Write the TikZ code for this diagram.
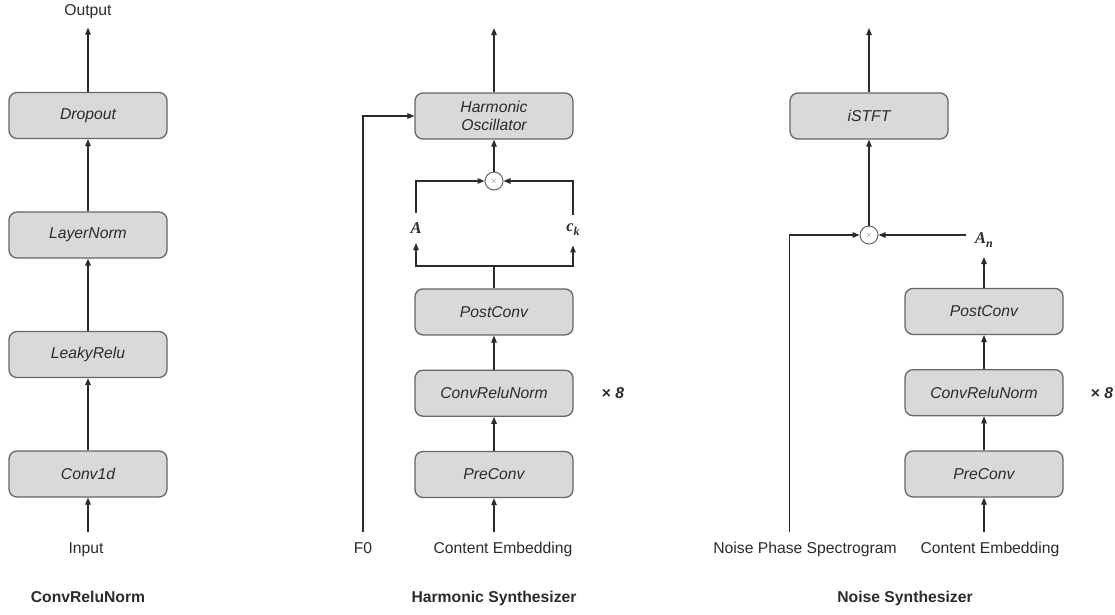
\documentclass[tikz,border=0pt]{standalone}
\usepackage{fontspec}
\setmainfont{Liberation Sans}
\newfontfamily\labelserif{Liberation Serif}
\usepackage{tikz}
\usetikzlibrary{positioning, arrows.meta}
\definecolor{boxfill}{HTML}{D9D9D9}
\definecolor{boxline}{HTML}{666666}
\definecolor{wire}{HTML}{2B2B2B}
\tikzset{rounded block/.style={draw=boxline, fill=boxfill, line width=1.3pt, rounded corners=8pt, minimum width=158pt, minimum height=46pt, align=center, font=\fontsize{15.7}{18}\selectfont\itshape}}
\tikzset{io label/.style={text height=11pt, text depth=3pt, inner sep=9pt}}
\tikzset{title label/.style={io label, inner sep=2pt, font=\fontsize{15.7}{18}\selectfont\bfseries}}
\tikzset{sym label/.style={inner sep=9pt, font=\fontsize{16.5}{18}\selectfont\labelserif\bfseries\itshape}}
\tikzset{mult/.style={circle, draw=boxline, fill=white, line width=1pt, minimum size=18pt, inner sep=0pt, text=boxline, font=\footnotesize}}
\newcommand{\lowsub}[1]{\raisebox{-4pt}{\fontsize{12}{12}\selectfont #1}}

\begin{document}
\begin{tikzpicture}[->, >={Triangle[length=7pt,width=5.5pt]}, x=1pt, y=-1pt, color=wire, line width=1.2pt, font=\fontsize{15.7}{18}\selectfont, node distance=72.2pt]
	\useasboundingbox (0,0) rectangle (1115,614);

	\node[rounded block] (conv) at (88,474) {Conv1d};
	\node[rounded block, above=of conv] (relu) {LeakyRelu};
	\node[rounded block, above=of relu] (norm) {LayerNorm};
	\node[rounded block, above=of norm] (drop) {Dropout};
	\node[io label] (in) at (86,549) {Input};
	\node[io label] (out) at (88,11) {Output};
	\node[title label] (t1) at (88,598) {ConvReluNorm};

	\node[rounded block] (pre2) at (494,474.5) {PreConv};
	\node[rounded block, above=34pt of pre2] (crn2) {ConvReluNorm};
	\node[rounded block, above=34pt of crn2] (post2) {PostConv};
	\node[rounded block] (osc) at (494,116) {Harmonic\\Oscillator};
	\node[mult] (mul1) at (494,181) {$\times$};
	\node[sym label] (amp) at (416,228) {A};
	\node[sym label] (ck) at (573,230) {c\lowsub{k}};
	\coordinate (split2) at (494,266);
	\coordinate (out2) at (494,28);
	\node[io label] (f0) at (363,549) {F0};
	\node[io label] (ce2) at (503,549) {Content Embedding};
	\node (rep2) at (613,393) {\textbf{× \textit{8}}};
	\node[title label] (t2) at (494,598) {Harmonic Synthesizer};

	\node[rounded block] (pre3) at (984,474) {PreConv};
	\node[rounded block, above=34pt of pre3] (crn3) {ConvReluNorm};
	\node[rounded block, above=34pt of crn3] (post3) {PostConv};
	\node[rounded block] (istft) at (869,116) {iSTFT};
	\node[mult] (mul2) at (869,235) {$\times$};
	\node[sym label] (an) at (984,240) {A\lowsub{n}};
	\coordinate (out3) at (869,28);
	\node[io label] (noise) at (805,549) {Noise Phase Spectrogram};
	\node[io label] (ce3) at (990,549) {Content Embedding};
	\node (rep3) at (1102,393) {\textbf{× \textit{8}}};
	\node[title label] (t3) at (905,598) {Noise Synthesizer};

	\draw (conv.south |- in.north) -- (conv.south);
	\draw (conv) -- (relu);
	\draw (relu) -- (norm);
	\draw (norm) -- (drop);
	\draw (drop) -- (out);

	\draw (pre2.south |- ce2.north) -- (pre2.south);
	\draw (pre2) -- (crn2);
	\draw (crn2) -- (post2);
	\draw[-] (post2) -- (split2);
	\draw (split2) -| (amp);
	\draw (split2) -| (ck);
	\draw (amp) |- (mul1);
	\draw (ck) |- (mul1);
	\draw (mul1) -- (osc);
	\draw (osc) -- (out2);
	\draw (f0) |- (osc);

	\draw (pre3.south |- ce3.north) -- (pre3.south);
	\draw (pre3) -- (crn3);
	\draw (crn3) -- (post3);
	\draw (post3) -- (an);
	\draw (mul2 -| an.west) -- (mul2);
	\draw (noise.north -| istft.west) |- (mul2);
	\draw (mul2) -- (istft);
	\draw (istft) -- (out3);
\end{tikzpicture}
\end{document}
